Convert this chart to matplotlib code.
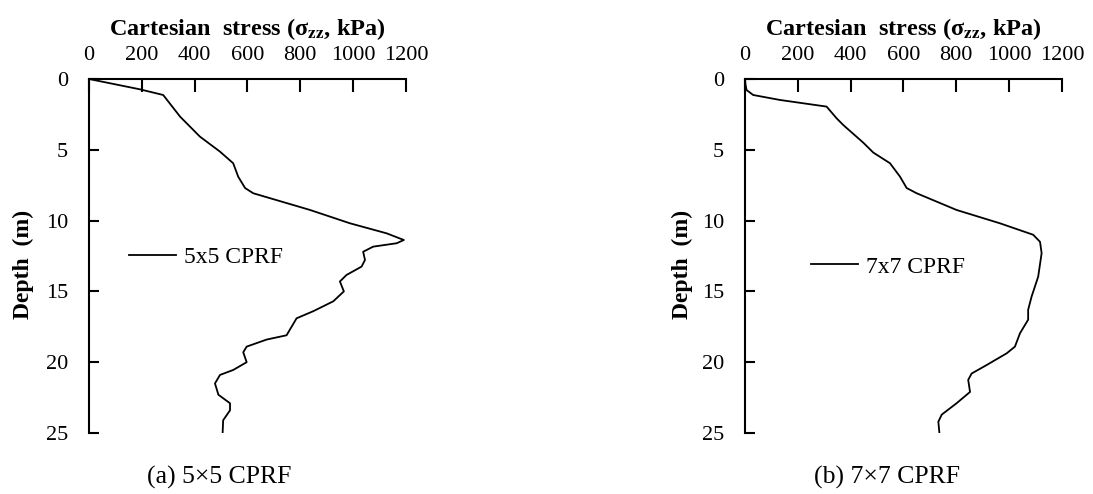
import numpy as np
import matplotlib.pyplot as plt

plt.rcParams['font.family'] = ['Liberation Serif', 'DejaVu Serif']
plt.rcParams['mathtext.fontset'] = 'stix'

# vertical stress profiles along the pile, stress in kPa vs depth in m
stress_5x5 = [0, 193, 281, 345, 420, 496, 546, 565, 591, 622, 837, 988, 1127, 1192,
              1165, 1076, 1038, 1045, 1032, 975, 950, 965, 925, 849, 786, 767, 748,
              673, 597, 584, 597, 546, 496, 477, 490, 534, 534, 508, 506]
depth_5x5 = [0, 0.73, 1.13, 2.66, 4.07, 5.13, 5.95, 6.9, 7.7, 8.07, 9.25, 10.19, 10.9, 11.37,
             11.6, 11.84, 12.2, 12.78, 13.25, 13.84, 14.3, 15.0, 15.7, 16.4, 16.9, 17.5, 18.1,
             18.4, 18.9, 19.3, 20.0, 20.55, 20.9, 21.5, 22.3, 22.9, 23.4, 24.1, 25]

stress_7x7 = [0, 2, 6, 31, 132, 309, 347, 372, 448, 486, 549, 587, 612, 650, 801, 965,
              1091, 1117, 1123, 1110, 1085, 1072, 1072, 1041, 1022, 991, 915, 858, 845,
              852, 801, 745, 732, 736]
depth_7x7 = [0, 0.4, 0.78, 1.13, 1.48, 1.95, 2.78, 3.25, 4.5, 5.2, 5.95, 6.9, 7.7, 8.07, 9.25,
             10.19, 11.0, 11.5, 12.3, 13.96, 15.37, 16.3, 17.0, 17.96, 18.9, 19.37, 20.2,
             20.8, 21.25, 22.1, 22.9, 23.7, 24.2, 25]

xticks = [0, 200, 400, 600, 800, 1000, 1200]
yticks = [0, 5, 10, 15, 20, 25]

panels = [
    (stress_5x5, depth_5x5, "5x5 CPRF", "(a) 5\u00d75 CPRF"),
    (stress_7x7, depth_7x7, "7x7 CPRF", "(b) 7\u00d77 CPRF"),
]

fig = plt.figure(figsize=(10.93, 4.94), dpi=100)
lefts = [0.0814, 0.6816]
leg_pos = [(0.126, 0.497), (0.208, 0.469)]
ylab_x = [-0.174, -0.164]
cap_x = [219 / 1093, 887 / 1093]

for i, (s, d, name, cap) in enumerate(panels):
    ax = fig.add_axes([lefts[i], 0.1235, 0.290, 0.7166])
    ax.plot(s, d, "-", color="black", lw=1.3, label=name)

    ax.set_xlim(0, 1200)
    ax.set_ylim(25, 0)
    ax.set_xticks(xticks)
    ax.set_yticks(yticks)
    ax.xaxis.set_ticks_position("top")
    ax.xaxis.set_label_position("top")
    ax.tick_params(axis="x", direction="in", length=9, width=1.5, pad=10, labelsize=16)
    ax.tick_params(axis="y", direction="in", length=7, width=1.5, pad=15, labelsize=16)
    for sp in ["right", "bottom"]:
        ax.spines[sp].set_visible(False)
    for sp in ["left", "top"]:
        ax.spines[sp].set_linewidth(1.5)

    ax.set_xlabel("Cartesian  stress (\u03c3$_{\\mathbf{zz}}$, kPa)", fontsize=17.5,
                  fontweight="bold", labelpad=8)
    ax.set_ylabel("Depth  (m)", fontsize=17, fontweight="bold")
    ax.yaxis.set_label_coords(ylab_x[i], 0.475)

    ax.legend(loc="center left", bbox_to_anchor=leg_pos[i], frameon=False,
              fontsize=17, borderpad=0, borderaxespad=0, handlelength=2.0,
              handletextpad=0.35)

    fig.text(cap_x[i], 1 - 477 / 494, cap, ha="center", va="center", fontsize=18.5)

fig.savefig("out.png", dpi=100)
